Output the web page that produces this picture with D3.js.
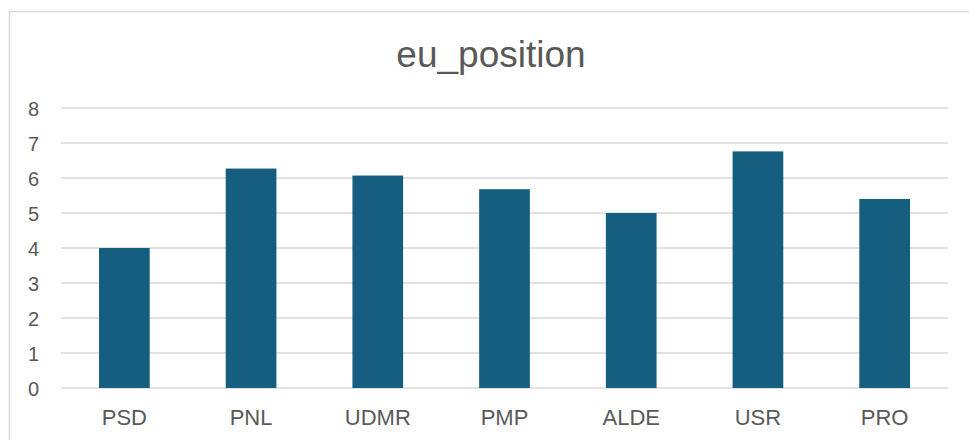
<!DOCTYPE html>
<html lang="en">
<head>
    <meta charset="UTF-8">
    <title>eu_position</title>
    <script type="text/javascript" src="https://cdnjs.cloudflare.com/ajax/libs/d3/7.8.5/d3.min.js"></script>
    <style>
        body { margin: 0; background: #fff; }
        svg { display: block; }
    </style>
</head>
<body>
    <div id="draw-here"></div>

    <script>
    /* global d3 */

    // data
    var parties = ["PSD", "PNL", "UDMR", "PMP", "ALDE", "USR", "PRO"];
    var euPosition = [4.0, 6.27, 6.07, 5.68, 5.0, 6.76, 5.4];
    var yTicks = [0, 1, 2, 3, 4, 5, 6, 7, 8];

    var w = 969;
    var h = 440;
    // plot area edges
    var plotLeft = 61, plotRight = 948, plotTop = 108, plotBottom = 388;

    var textColor = "#595959";
    var font = "'Liberation Sans', Arial, sans-serif";

    var svg = d3.select("#draw-here")
        .append("svg")
        .attr("width", w)
        .attr("height", h);

    // chart area border (runs past the right and bottom edges)
    svg.append("rect")
        .attr("x", 9.5)
        .attr("y", 11.5)
        .attr("width", w + 20)
        .attr("height", h + 20)
        .attr("fill", "none")
        .attr("stroke", "#d9d9d9")
        .attr("stroke-width", 1.5);

    var x = d3.scaleBand()
        .domain(parties)
        .range([plotLeft, plotRight])
        .paddingInner(0.6)
        .paddingOuter(0.3);

    var y = d3.scaleLinear()
        .domain([0, 8])
        .range([plotBottom, plotTop]);

    // gridlines
    svg.append("g")
        .selectAll("line")
        .data(yTicks)
        .enter()
        .append("line")
        .attr("x1", plotLeft)
        .attr("x2", plotRight)
        .attr("y1", function(d) { return y(d); })
        .attr("y2", function(d) { return y(d); })
        .attr("stroke", "#d9d9d9")
        .attr("stroke-width", 1.5);

    // y axis labels
    var yAxis = d3.axisLeft(y).tickValues(yTicks).tickSize(0).tickPadding(0);
    var gy = svg.append("g")
        .attr("transform", "translate(39,0)")
        .call(yAxis);
    gy.select(".domain").remove();
    gy.selectAll("text")
        .attr("fill", textColor)
        .attr("font-family", font)
        .attr("font-size", "20px")
        .attr("dy", "0.35em");

    // bars
    svg.append("g")
        .selectAll("rect")
        .data(euPosition)
        .enter()
        .append("rect")
        .attr("x", function(d, i) { return x(parties[i]); })
        .attr("y", function(d) { return y(d); })
        .attr("width", x.bandwidth())
        .attr("height", function(d) { return y(0) - y(d); })
        .attr("fill", "#165e80");

    // x axis labels
    var xAxis = d3.axisBottom(x).tickSize(0).tickPadding(0);
    var gx = svg.append("g")
        .attr("transform", "translate(0," + plotBottom + ")")
        .call(xAxis);
    gx.select(".domain").remove();
    gx.selectAll("text")
        .attr("fill", textColor)
        .attr("font-family", font)
        .attr("font-size", "22px")
        .attr("dy", "1.68em");

    // title
    svg.append("text")
        .attr("x", 491)
        .attr("y", 67)
        .attr("text-anchor", "middle")
        .attr("font-family", font)
        .attr("font-size", "37px")
        .attr("fill", textColor)
        .text("eu_position");
    </script>
</body>
</html>
